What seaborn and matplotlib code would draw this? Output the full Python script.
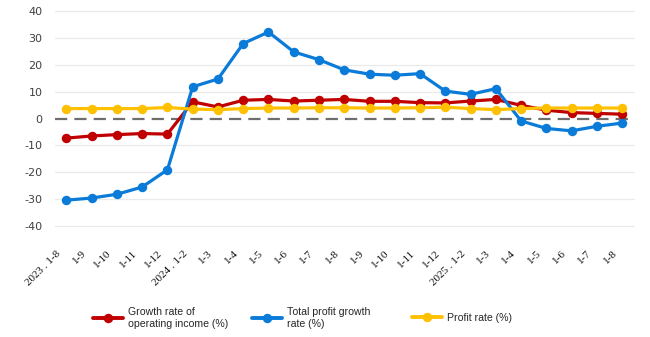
import matplotlib
matplotlib.use("Agg")
import matplotlib.pyplot as plt
import matplotlib.transforms as mtrans
import seaborn as sns
import pandas as pd
import numpy as np

periods = ["2023 . 1-8", "1-9", "1-10", "1-11", "1-12",
           "2024 . 1-2", "1-3", "1-4", "1-5", "1-6", "1-7", "1-8", "1-9", "1-10", "1-11", "1-12",
           "2025 . 1-2", "1-3", "1-4", "1-5", "1-6", "1-7", "1-8"]

income_growth = [-7.3, -6.5, -6.0, -5.6, -5.8,
                 6.2, 4.3, 6.8, 7.1, 6.5, 6.8, 7.1, 6.4, 6.4, 5.9, 5.8,
                 6.5, 7.1, 4.9, 3.1, 2.2, 1.9, 1.6]
profit_growth = [-30.4, -29.6, -28.2, -25.5, -19.1,
                 11.8, 14.7, 27.9, 32.2, 24.8, 21.9, 18.1, 16.5, 16.1, 16.7, 10.2,
                 9.0, 11.1, -0.9, -3.7, -4.6, -2.9, -1.7]
profit_rate = [3.7, 3.7, 3.7, 3.7, 4.1,
               3.5, 3.3, 3.7, 3.9, 3.9, 4.0, 4.0, 3.9, 3.9, 4.0, 4.2,
               3.7, 3.3, 3.7, 3.9, 3.9, 3.9, 3.9]

series_names = ["Growth rate of\noperating income (%)",
                "Total profit growth\nrate (%)",
                "Profit rate (%)"]
colors = ["#C00000", "#0A7BD8", "#FFC000"]
yticks = [-40, -30, -20, -10, 0, 10, 20, 30, 40]

idx = np.arange(len(periods))
df = pd.concat([
    pd.DataFrame({"idx": idx, "value": income_growth, "series": series_names[0]}),
    pd.DataFrame({"idx": idx, "value": profit_growth, "series": series_names[1]}),
    pd.DataFrame({"idx": idx, "value": profit_rate, "series": series_names[2]}),
])

sns.set_style("white")
fig = plt.figure(figsize=(6.5, 3.37), dpi=100)
ax = fig.add_axes([0.0846, 0.3175, 0.892, 0.6617])

for g in yticks:
    if g != 0:
        ax.axhline(g, color="#EAEAEA", lw=0.9, zorder=0)
ax.axhline(0, color="#6E6E6E", lw=1.6, ls=(0, (5.5, 3.2)), zorder=1)

sns.lineplot(data=df, x="idx", y="value", hue="series", hue_order=series_names,
             palette=colors, marker="o", markersize=6.8, markeredgewidth=0,
             linewidth=2.3, sort=False, ax=ax, legend=False, zorder=3)

ax.set_xlim(-0.45, len(periods) - 0.5)
ax.set_ylim(-41.5, 41.5)
ax.set_yticks(yticks)
ax.set_yticklabels([str(v) for v in yticks], fontsize=8, color="#404040",
                   family="DejaVu Sans")
ax.set_xticks(idx)
ax.set_xticklabels(periods, rotation=45, ha="right", rotation_mode="anchor",
                   fontsize=8, family="Liberation Serif", color="#111111")
ax.tick_params(axis="x", length=0, pad=12)
ax.tick_params(axis="y", length=0, pad=9)
offset = mtrans.ScaledTranslation(-10 / 100, -2 / 100, fig.dpi_scale_trans)
for lbl in ax.get_xticklabels():
    lbl.set_transform(lbl.get_transform() + offset)
ax.set_xlabel("")
ax.set_ylabel("")
for s in ax.spines.values():
    s.set_visible(False)

legend_x = [0.143, 0.388, 0.634]
for name, c, lx in zip(series_names, colors, legend_x):
    h = plt.Line2D([], [], color=c, lw=2.8, marker="o", markersize=6.8,
                   markeredgewidth=0)
    leg = fig.legend([h], [name], loc="center left", bbox_to_anchor=(lx, 0.056),
                     frameon=False, prop={"family": "Liberation Sans", "size": 7.6},
                     handlelength=2.85, handletextpad=0.45, borderpad=0,
                     borderaxespad=0)

fig.savefig("out.png", dpi=100)
